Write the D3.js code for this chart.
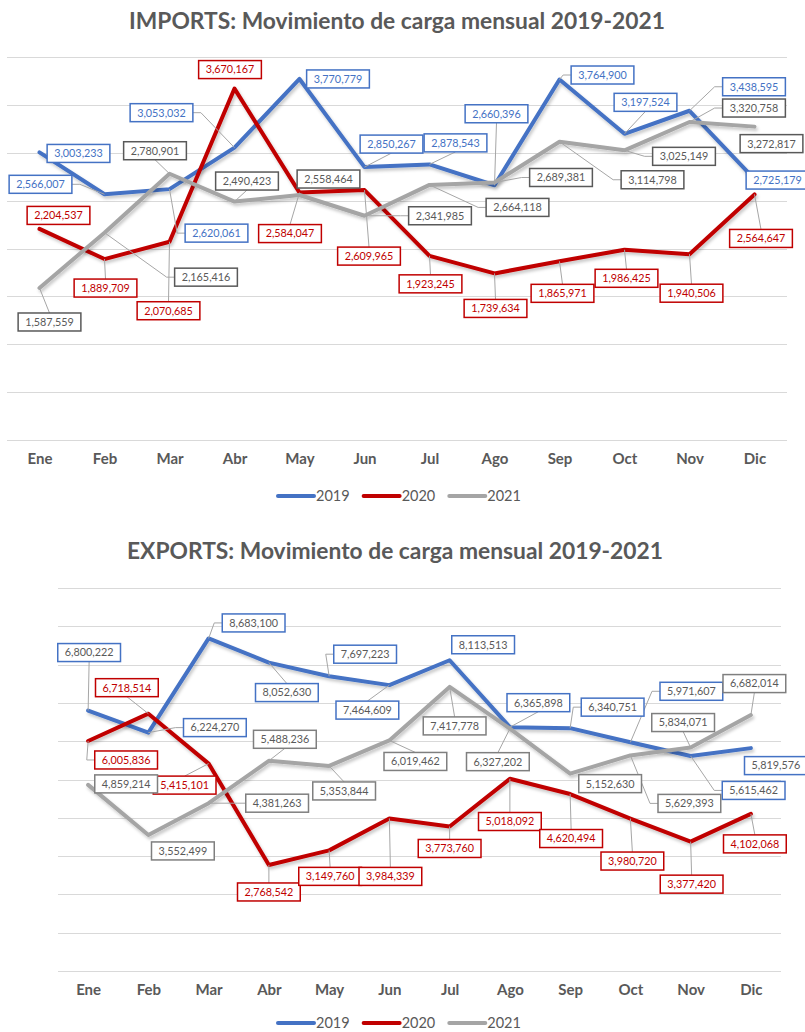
<!DOCTYPE html>
<html>
<head>
<meta charset="utf-8">
<script src="https://cdnjs.cloudflare.com/ajax/libs/d3/7.8.5/d3.min.js"></script>
<style>
  body { margin: 0; background: #fff; }
  svg { display: block; font-family: Lato, "Open Sans", sans-serif; }
</style>
</head>
<body>
<script>
// ---- data ----
const months = ["Ene", "Feb", "Mar", "Abr", "May", "Jun", "Jul", "Ago", "Sep", "Oct", "Nov", "Dic"]
const years = ["2019", "2020", "2021"]

const imports2019 = [3003233, 2566007, 2620061, 3053032, 3770779, 2850267, 2878543, 2660396, 3764900, 3197524, 3438595, 2725179]
const imports2020 = [2204537, 1889709, 2070685, 3670167, 2584047, 2609965, 1923245, 1739634, 1865971, 1986425, 1940506, 2564647]
const imports2021 = [1587559, 2165416, 2780901, 2490423, 2558464, 2341985, 2664118, 2689381, 3114798, 3025149, 3320758, 3272817]

const exports2019 = [6800222, 6224270, 8683100, 8052630, 7697223, 7464609, 8113513, 6365898, 6340751, 5971607, 5615462, 5819576]
const exports2020 = [6005836, 6718514, 5415101, 2768542, 3149760, 3984339, 3773760, 5018092, 4620494, 3980720, 3377420, 4102068]
const exports2021 = [4859214, 3552499, 4381263, 5488236, 5353844, 6019462, 7417778, 6327202, 5152630, 5629393, 5834071, 6682014]

// ---- label placement (offset of label box centre from its point, px) ----
const imports2019Offsets = [[39,1],[-64,-10],[47,44],[-73,-35],[38.5,0],[27,-23],[26,-21.5],[2,-71.5],[43,-4.5],[21,-31.5],[64.5,-24],[23,1]]
const imports2020Offsets = [[19,-13.5],[1,29],[-1,69],[-4.5,-19],[-9.5,41],[4.5,66],[1,28],[1,35],[3,32],[2,28.5],[2,39],[6.5,44]]
const imports2021Offsets = [[10,34],[101.5,44.5],[-14.5,-23],[12.5,-20.5],[29,-16],[75.5,0],[88,22.5],[66.5,-5],[93,38],[59.5,6],[64.5,-14],[17,17]]

const exports2019Offsets = [[1,-58],[66.5,-5],[45,-15.5],[18,30],[36,-22],[-22,25],[33.5,-15.5],[28.5,-24.5],[42.5,-21],[61,-51],[63,34.5],[25,17.5]]
const exports2020Offsets = [[38,19],[-21.5,-26],[-24,21.5],[0,27],[1,26],[1,58],[0,22],[0,42.7],[1,44.5],[2,42.5],[1,42.5],[4,30]]
const exports2021Offsets = [[38,-1],[34.5,16],[68.5,0],[16,-21.5],[15,25],[26,21],[5,39],[-12,33],[40,10],[59,48],[-7.5,-25],[3.5,-31.5]]

const lineColors = ["#4472C4", "#C00000", "#A5A5A5"]
const fmt = d3.format(",")

const svg = d3.select("body").append("svg")
    .attr("width", 805)
    .attr("height", 1032)

// soft shadow like the excel lines
svg.append("defs").append("filter")
    .attr("id", "shadow")
    .attr("x", "-5%").attr("y", "-10%").attr("width", "110%").attr("height", "130%")
  .append("feDropShadow")
    .attr("dx", 1.5).attr("dy", 2.5)
    .attr("stdDeviation", 1.5)
    .attr("flood-color", "#000")
    .attr("flood-opacity", 0.22)

function drawChart(cfg) {
    const x = d3.scalePoint()
        .domain(months)
        .range([cfg.left, cfg.right])
        .padding(0.5)
    const y = d3.scaleLinear()
        .domain([0, cfg.yMax])
        .range([cfg.bottom, cfg.top])

    const g = svg.append("g")

    // title
    g.append("text")
        .attr("x", cfg.titleX)
        .attr("y", cfg.titleY)
        .attr("text-anchor", "middle")
        .attr("font-size", 22.8)
        .attr("font-weight", "bold")
        .attr("fill", "#595959")
        .text(cfg.title)

    // gridlines
    g.append("g")
        .selectAll("line")
        .data(y.ticks(cfg.ticks))
        .join("line")
            .attr("x1", cfg.left)
            .attr("x2", cfg.right)
            .attr("y1", d => Math.round(y(d)) + 0.5)
            .attr("y2", d => Math.round(y(d)) + 0.5)
            .attr("stroke", "#D9D9D9")
            .attr("stroke-width", 1)

    // x axis labels
    const xAxis = g.append("g")
        .attr("transform", `translate(0, ${cfg.bottom})`)
        .call(d3.axisBottom(x).tickSize(0).tickPadding(13))
    xAxis.select(".domain").remove()
    xAxis.selectAll("text")
        .attr("font-family", "Lato, sans-serif")
        .attr("font-size", 15)
        .attr("font-weight", "bold")
        .attr("fill", "#595959")

    // lines
    const line = d3.line()
        .x((d, i) => x(months[i]))
        .y(d => y(d))

    cfg.series.forEach((s, k) => {
        g.append("path")
            .datum(s.values)
            .attr("d", line)
            .attr("fill", "none")
            .attr("stroke", lineColors[k])
            .attr("stroke-width", 4)
            .attr("stroke-linejoin", "round")
            .attr("stroke-linecap", "round")
            .attr("filter", "url(#shadow)")
    })

    // data labels + leader lines
    const leaders = g.append("g")
    const labels = g.append("g")
    cfg.series.forEach((s, k) => {
        s.values.forEach((v, i) => {
            const px = x(months[i]), py = y(v)
            const cx = px + s.offsets[i][0], cy = py + s.offsets[i][1]
            const lab = labels.append("g")
            const t = lab.append("text")
                .attr("x", cx)
                .attr("y", cy)
                .attr("dy", "0.36em")
                .attr("text-anchor", "middle")
                .attr("font-size", 10.8)
                .attr("fill", s.textColor)
                .text(fmt(v))
            const w = t.node().getComputedTextLength() + 14
            const h = 18
            lab.insert("rect", "text")
                .attr("x", cx - w / 2)
                .attr("y", cy - h / 2)
                .attr("width", w)
                .attr("height", h)
                .attr("fill", "#fff")
                .attr("stroke", s.boxColor)
                .attr("stroke-width", 1.5)

            // leader line, only when the label sits away from its point
            const gx = Math.max(Math.abs(px - cx) - w / 2, 0)
            const gy = Math.max(Math.abs(py - cy) - h / 2, 0)
            if (Math.hypot(gx, gy) < 10.5) return
            let pts
            if (Math.abs(px - cx) <= w / 2) {
                const ey = py < cy ? cy - h / 2 : cy + h / 2
                pts = [[px, py], [cx, ey]]
            } else {
                const ex = px < cx ? cx - w / 2 : cx + w / 2
                const elbow = px < cx ? ex - 8 : ex + 8
                pts = [[px, py], [elbow, cy], [ex, cy]]
            }
            leaders.append("path")
                .attr("d", d3.line()(pts))
                .attr("fill", "none")
                .attr("stroke", "#A6A6A6")
                .attr("stroke-width", 1)
        })
    })

    // legend
    const legend = g.append("g")
    let lx = 278
    years.forEach((yr, k) => {
        legend.append("line")
            .attr("x1", lx).attr("x2", lx + 36)
            .attr("y1", cfg.legendY).attr("y2", cfg.legendY)
            .attr("stroke", lineColors[k])
            .attr("stroke-width", 4)
            .attr("stroke-linecap", "round")
        const t = legend.append("text")
            .attr("x", lx + 38)
            .attr("y", cfg.legendY)
            .attr("dy", "0.35em")
            .attr("font-size", 14.5)
            .attr("fill", "#595959")
            .text(yr)
        lx += 38 + t.node().getComputedTextLength() + 14
    })
}

drawChart({
    title: "IMPORTS: Movimiento de carga mensual 2019-2021",
    titleX: 397, titleY: 29,
    left: 7, right: 787, top: 57, bottom: 440,
    yMax: 4000000, ticks: 8,
    legendY: 496,
    series: [
        {values: imports2019, offsets: imports2019Offsets, textColor: "#4472C4", boxColor: "#4472C4"},
        {values: imports2020, offsets: imports2020Offsets, textColor: "#C00000", boxColor: "#C00000"},
        {values: imports2021, offsets: imports2021Offsets, textColor: "#595959", boxColor: "#595959"}
    ]
})

drawChart({
    title: "EXPORTS: Movimiento de carga mensual 2019-2021",
    titleX: 395, titleY: 559,
    left: 58, right: 781, top: 588, bottom: 971,
    yMax: 10000000, ticks: 10,
    legendY: 1023,
    series: [
        {values: exports2019, offsets: exports2019Offsets, textColor: "#595959", boxColor: "#4472C4"},
        {values: exports2020, offsets: exports2020Offsets, textColor: "#C00000", boxColor: "#C00000"},
        {values: exports2021, offsets: exports2021Offsets, textColor: "#595959", boxColor: "#7F7F7F"}
    ]
})
</script>
</body>
</html>
